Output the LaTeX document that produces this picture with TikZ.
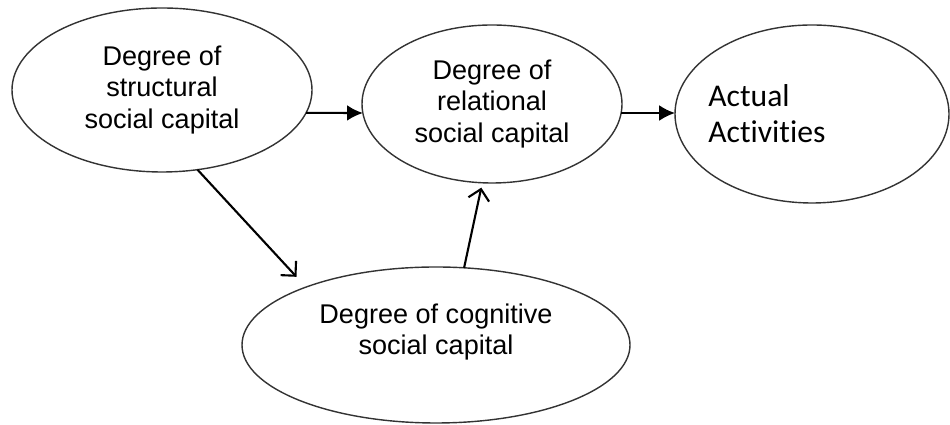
\documentclass[tikz,border=0pt]{standalone}
\usepackage{fontspec}
\setmainfont{Liberation Sans}
\newfontfamily\actfont[Ligatures={NoCommon,NoDiscretionary}]{Carlito}
\usetikzlibrary{shapes.geometric,arrows.meta}

\newcommand{\capfont}{\fontsize{15.4}{18}\selectfont}
\newcommand{\actsize}{\actfont\fontsize{18}{20.4}\selectfont}

\tikzset{
  capital/.style={draw=black!80, line width=0.8pt, ellipse, inner sep=0pt, outer sep=0pt, align=center, font=\capfont},
  flow/.style={line width=1.2pt, -{Latex[length=9pt,width=9pt]}},
  feed/.style={line width=1.2pt, -{Straight Barb[length=6pt,width=12pt]}}
}

\begin{document}
\begin{tikzpicture}
  \useasboundingbox (0,0) rectangle (19,8.5);
  \node[capital, minimum width=6cm, minimum height=3.28cm] (structural) at (3.24,6.70) {Degree of\\structural\\social capital};
  \node[capital, minimum width=5.2cm, minimum height=3.16cm] (relational) at (9.84,6.42) {Degree of\\relational\\social capital};
  \node[capital, minimum width=5.48cm, minimum height=3.56cm,
    label={[anchor=west, xshift=0.66cm, inner sep=0pt, align=left, font=\actsize]west:Actual\\Activities}] (actual) at (16.24,6.22) {};
  \node[capital, minimum width=7.76cm, minimum height=3.12cm,
    label={[yshift=0.26cm, inner sep=0pt, align=center, font=\capfont]center:Degree of cognitive\\social capital}] (cognitive) at (8.72,1.60) {};
  \draw[flow] (structural.-9) -- (relational.184);
  \draw[flow] (relational.-4) -- (relational.-4 -| actual.west);
  \draw[feed, shorten >=0.28cm] (structural.-66) -- (cognitive.156);
  \draw[feed, shorten >=0.1cm] (cognitive.70) -- (relational.-97);
\end{tikzpicture}
\end{document}
